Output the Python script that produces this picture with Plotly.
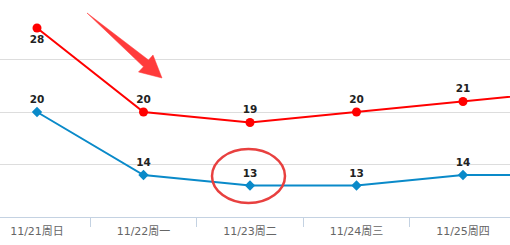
import plotly.graph_objects as go

categories = ["11/21周日", "11/22周一", "11/23周二", "11/24周三", "11/25周四", "11/26周五"]
high_temps = [28, 20, 19, 20, 21, 22]
low_temps = [20, 14, 13, 13, 14, 14]
high_label_pos = ["bottom center", "top center", "top center", "top center", "top center", "top center"]
visible_points = 5  # the sixth point lies beyond the right edge of the view

W, H = 510, 245
ML, MR, MT, MB = 0, 0, 7, 28
PW, PH = W - ML - MR, H - MT - MB

def px(x):
    return (x - ML) / PW

def py(y):
    return (H - MB - y) / PH

def labels(vals):
    return [str(v) if i < visible_points else "" for i, v in enumerate(vals)]

fig = go.Figure()

fig.add_trace(go.Scatter(
    x=categories, y=high_temps, mode="lines+markers+text",
    text=labels(high_temps), textposition=high_label_pos,
    textfont=dict(family="DejaVu Sans", size=10.5, color="#222222", weight="bold"),
    line=dict(color="#ff0000", width=2),
    marker=dict(symbol="circle", size=9, color="#ff0000"),
    cliponaxis=True, showlegend=False, hoverinfo="skip",
))
fig.add_trace(go.Scatter(
    x=categories, y=low_temps, mode="lines+markers+text",
    text=labels(low_temps), textposition="top center",
    textfont=dict(family="DejaVu Sans", size=10.5, color="#222222", weight="bold"),
    line=dict(color="#0a8ac9", width=2),
    marker=dict(symbol="diamond", size=8, color="#0a8ac9"),
    cliponaxis=True, showlegend=False, hoverinfo="skip",
))

# decorative red arrow (tapered) and ellipse, in paper coordinates
arrow_pts = [(87, 13), (148.5, 60.0), (153, 55), (162, 78), (138.5, 72), (143.5, 66.8)]
path = "M " + " L ".join(f"{px(x):.5f},{py(y):.5f}" for x, y in arrow_pts) + " Z"
fig.add_shape(type="path", path=path, xref="paper", yref="paper",
              fillcolor="#ff3b3b", line=dict(color="#ff3b3b", width=0.5))
fig.add_shape(type="circle", xref="paper", yref="paper",
              x0=px(212), x1=px(285), y0=py(203), y1=py(149),
              line=dict(color="#e8403f", width=2.5))

fig.update_layout(
    width=W, height=H,
    margin=dict(l=ML, r=MR, t=MT, b=MB),
    paper_bgcolor="white", plot_bgcolor="white",
    xaxis=dict(
        type="category", range=[-37 / 106.5, (510 - 37) / 106.5],
        tickson="boundaries", ticks="outside", ticklen=9, tickcolor="#c4d2e2",
        showline=True, linecolor="#c4d2e2", linewidth=1,
        showgrid=False, zeroline=False, ticklabelstandoff=4,
        tickfont=dict(family="DejaVu Sans, Noto Sans CJK SC", size=11, color="#666666"),
    ),
    yaxis=dict(
        range=[10, 30], dtick=5, tick0=10,
        showgrid=True, gridcolor="#dddddd", gridwidth=1,
        showticklabels=False, zeroline=False, showline=False, ticks="",
    ),
)

fig.write_html("out.html")
